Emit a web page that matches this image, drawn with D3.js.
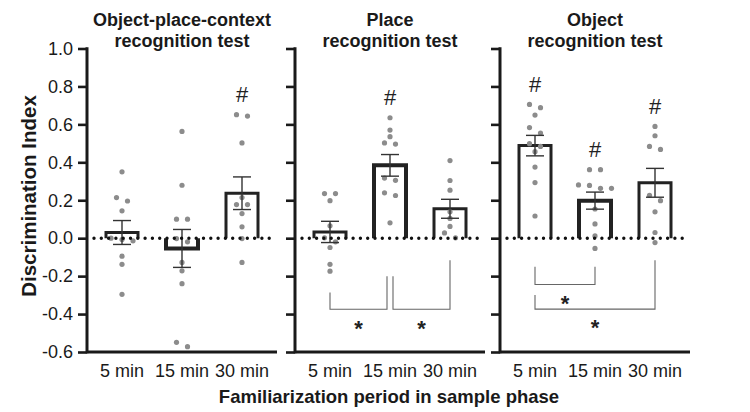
<!DOCTYPE html>
<html><head><meta charset="utf-8">
<script src="https://cdn.jsdelivr.net/npm/d3@7"></script>
<style>body{margin:0;background:#fff} svg{display:block}</style>
</head><body><svg id="c" width="750" height="412"></svg>
<script>
// ---------- data ----------
const groups = ["5 min", "15 min", "30 min"];
const panelTitles = [["Object-place-context", "recognition test"], ["Place", "recognition test"], ["Object", "recognition test"]];
const yTicks = [-0.6, -0.4, -0.2, 0, 0.2, 0.4, 0.6, 0.8, 1.0];
const yTitle = "Discrimination Index";
const xTitle = "Familiarization period in sample phase";

// bar means and SEM per group
const meanOPC = [0.03, -0.054, 0.237];
const semOPC = [0.063, 0.10, 0.086];
const meanPlace = [0.033, 0.384, 0.155];
const semPlace = [0.056, 0.057, 0.05];
const meanObject = [0.488, 0.198, 0.292];
const semObject = [0.054, 0.045, 0.076];

// individual animals
const dotsOPC = [
  [0.35, 0.214, 0.196, 0.144, 0.0, -0.007, -0.014, -0.095, -0.138, -0.296],
  [0.563, 0.279, 0.1, 0.1, -0.002, -0.019, -0.128, -0.172, -0.24, -0.549, -0.572],
  [0.651, 0.644, 0.502, 0.214, 0.177, 0.177, 0.13, 0.06, -0.002, -0.128]
];
const dotsPlace = [
  [0.235, 0.235, 0.198, 0.065, 0.002, -0.019, -0.049, -0.138, -0.174],
  [0.635, 0.57, 0.535, 0.502, 0.496, 0.317, 0.305, 0.239, 0.225, 0.081],
  [0.409, 0.304, 0.253, 0.139, 0.104, 0.062, 0.028, 0.002]
];
const dotsObject = [
  [0.705, 0.688, 0.649, 0.583, 0.554, 0.498, 0.484, 0.456, 0.375, 0.293, 0.117],
  [0.361, 0.361, 0.281, 0.278, 0.263, 0.263, 0.154, 0.075, 0.012, -0.054],
  [0.589, 0.54, 0.484, 0.468, 0.226, 0.198, 0.139, 0.03, -0.023]
];

// "#" = different from chance
const hashOPC = [false, false, true];
const hashPlace = [false, true, false];
const hashObject = [true, true, true];

// significance brackets (values in discrimination-index units)
const bracketsOPC = [];
const bracketsPlace = [
  {from: "5 min", to: "15 min", leftTop: -0.286, rightTop: -0.2, level: -0.375, star: -0.45},
  {from: "15 min", to: "30 min", leftTop: -0.2, rightTop: -0.116, level: -0.375, star: -0.45}
];
const bracketsObject = [
  {from: "5 min", to: "15 min", leftTop: -0.151, rightTop: -0.151, level: -0.244, star: -0.317},
  {from: "5 min", to: "30 min", leftTop: -0.3, rightTop: -0.116, level: -0.374, star: -0.446}
];

const panels = [
  {title: panelTitles[0], mean: meanOPC, sem: semOPC, dots: dotsOPC, hash: hashOPC, brackets: bracketsOPC},
  {title: panelTitles[1], mean: meanPlace, sem: semPlace, dots: dotsPlace, hash: hashPlace, brackets: bracketsPlace},
  {title: panelTitles[2], mean: meanObject, sem: semObject, dots: dotsObject, hash: hashObject, brackets: bracketsObject}
];

// ---------- layout ----------
const svg = d3.select("#c");
const panelX = [87, 295, 500];
const panelW = 190;
const y = d3.scaleLinear().domain([-0.6, 1.0]).range([352, 48.5]);
const FONT = "'Liberation Sans', Arial, Helvetica, sans-serif";
const ink = "#1a1a1a";
const dotColor = "#8c8c8c";
const barHalf = 16;
const fmt = v => d3.format(".1f")(v).replace("\u2212", "-");

function swarm(vals, cx) {
  const s = vals.map(v => ({v, py: y(v)})).sort((a, b) => a.py - b.py);
  const rows = []; let cur = null;
  s.forEach(d => {
    if (cur && d.py - cur[0].py < 6) cur.push(d);
    else { cur = [d]; rows.push(cur); }
  });
  const out = [];
  rows.forEach(r => r.forEach((d, i) => out.push({x: cx + (i - (r.length - 1) / 2) * 11, y: d.py})));
  return out;
}

panels.forEach((p, pi) => {
  const x0 = panelX[pi];
  const x = d3.scalePoint().domain(groups).range([x0 + 5, x0 + 185]).padding(0.5);
  const g = svg.append("g");

  // titles
  p.title.forEach((t, i) => {
    g.append("text").attr("x", x0 + panelW / 2).attr("y", 25.5 + i * 21.5)
      .attr("text-anchor", "middle").attr("font-family", FONT).attr("font-weight", "bold")
      .attr("font-size", 18).attr("fill", ink).text(t);
  });

  // bars (three-sided, open at zero)
  groups.forEach((k, i) => {
    const cx = x(k), m = p.mean[i];
    const path = d3.path();
    path.moveTo(cx - barHalf, y(0));
    path.lineTo(cx - barHalf, y(m));
    path.lineTo(cx + barHalf, y(m));
    path.lineTo(cx + barHalf, y(0));
    g.append("path").attr("d", path.toString()).attr("fill", "#fff")
      .attr("stroke", "#222").attr("stroke-width", i === 1 ? 4 : 3)
      .attr("stroke-linejoin", "miter");
  });

  // dots
  groups.forEach((k, i) => {
    g.selectAll(null).data(swarm(p.dots[i], x(k))).join("circle")
      .attr("cx", d => d.x).attr("cy", d => d.y).attr("r", 2.6).attr("fill", dotColor);
  });

  // error bars
  groups.forEach((k, i) => {
    const cx = x(k), m = p.mean[i], s = p.sem[i];
    const eb = g.append("g").attr("stroke", "#333").attr("stroke-width", 1.4);
    eb.append("line").attr("x1", cx).attr("x2", cx).attr("y1", y(m - s)).attr("y2", y(m + s));
    [m - s, m + s].forEach(v => eb.append("line").attr("x1", cx - 9).attr("x2", cx + 9).attr("y1", y(v)).attr("y2", y(v)));
  });

  // zero dotted line
  g.append("line").attr("x1", x0 + 7).attr("x2", x0 + 188).attr("y1", y(0)).attr("y2", y(0))
    .attr("stroke", "#111").attr("stroke-width", 3.4).attr("stroke-linecap", "round")
    .attr("stroke-dasharray", "0,7.3");

  // hash marks
  groups.forEach((k, i) => {
    if (!p.hash[i]) return;
    const top = y(d3.max(p.dots[i]));
    g.append("text").attr("x", x(k)).attr("y", top - 12.5).attr("text-anchor", "middle")
      .attr("font-family", FONT).attr("font-size", 22).attr("fill", "#222").text("#");
  });

  // significance brackets
  p.brackets.forEach(b => {
    const shared = (key, side) => p.brackets.some(o => o !== b && (side === "r" ? o.from === key : o.to === key) && o.level === b.level);
    const xl = x(b.from) + (shared(b.from, "l") ? 3 : 0);
    const xr = x(b.to) - (shared(b.to, "r") ? 3 : 0);
    const path = d3.path();
    path.moveTo(xl, y(b.leftTop)); path.lineTo(xl, y(b.level));
    path.lineTo(xr, y(b.level)); path.lineTo(xr, y(b.rightTop));
    g.append("path").attr("d", path.toString()).attr("fill", "none")
      .attr("stroke", "#666").attr("stroke-width", 1.1);
    g.append("text").attr("x", (xl + xr) / 2).attr("y", y(b.star) + 12.5).attr("text-anchor", "middle")
      .attr("font-family", FONT).attr("font-weight", "bold").attr("font-size", 22).attr("fill", "#222").text("*");
  });

  // y axis
  const ax = d3.axisLeft(y).tickValues(yTicks).tickSize(9).tickPadding(5)
    .tickFormat(pi === 0 ? fmt : () => "");
  const ag = g.append("g").attr("transform", `translate(${x0},0)`).call(ax);
  ag.select(".domain").remove();
  ag.selectAll(".tick line").attr("stroke", ink).attr("stroke-width", 2.6);
  ag.selectAll(".tick text").attr("font-family", FONT).attr("font-size", 18).attr("fill", ink);
  g.append("line").attr("x1", x0).attr("x2", x0).attr("y1", y(1.0) - 1.3).attr("y2", y(-0.6) + 1.3)
    .attr("stroke", ink).attr("stroke-width", 3);

  // x axis
  g.append("line").attr("x1", x0).attr("x2", x0 + panelW).attr("y1", y(-0.6)).attr("y2", y(-0.6))
    .attr("stroke", ink).attr("stroke-width", 3);
  groups.forEach(k => {
    g.append("text").attr("x", x(k)).attr("y", 377).attr("text-anchor", "middle")
      .attr("font-family", FONT).attr("font-size", 18).attr("fill", ink).text(k);
  });
});

// axis titles
svg.append("text").attr("transform", "translate(28.5,196) rotate(-90)")
  .attr("text-anchor", "middle").attr("dy", "0.35em")
  .attr("font-family", FONT).attr("font-weight", "bold").attr("font-size", 20.5).attr("fill", ink).text(yTitle);
svg.append("text").attr("x", 389).attr("y", 403).attr("text-anchor", "middle")
  .attr("font-family", FONT).attr("font-weight", "bold").attr("font-size", 18.5).attr("fill", ink).text(xTitle);
</script>
</body></html>
